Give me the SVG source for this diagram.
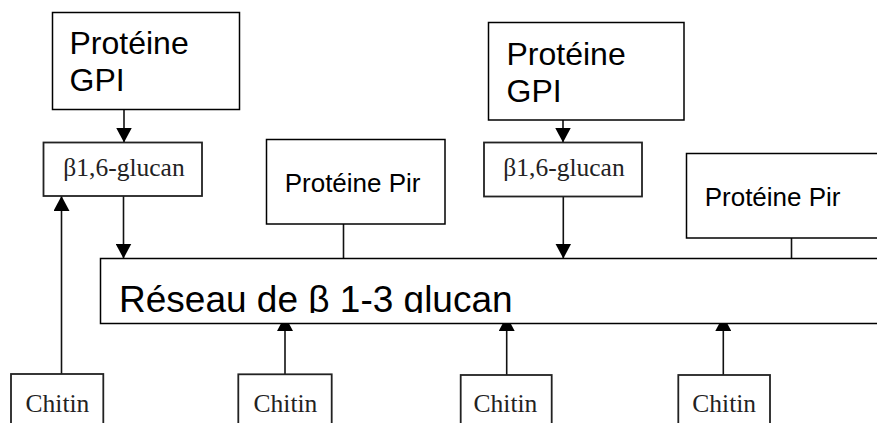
<svg xmlns="http://www.w3.org/2000/svg" width="877" height="423" viewBox="0 0 877 423">
<style>
.box{fill:#fff;stroke:#000;stroke-width:1.5}
.sbox{fill:#fff;stroke:#222;stroke-width:1.8}
.sans{font-family:"Liberation Sans",Arial,sans-serif;fill:#000}
.serif{font-family:"Liberation Serif","Times New Roman",serif;fill:#222;font-size:25.5px;text-anchor:middle}
.link{stroke:#111;stroke-width:1.6;fill:none}
.arr{marker-end:url(#ah)}
</style>
<defs>
<marker id="ah" viewBox="0 0 15 16" refX="15" refY="8" markerWidth="15" markerHeight="16" markerUnits="userSpaceOnUse" orient="auto">
<path d="M0,0 L15,8 L0,16 Z" fill="#000"/>
</marker>
<clipPath id="mainclip"><rect x="100" y="258" width="800" height="55"/></clipPath>
</defs>
<g id="connectors">
<line class="link arr" x1="124" y1="109" x2="124" y2="142.5"/>
<line class="link arr" x1="563" y1="120" x2="563" y2="142.5"/>
<line class="link arr" x1="123.5" y1="196" x2="123.5" y2="258.5"/>
<line class="link arr" x1="563.3" y1="196.5" x2="563.3" y2="258.5"/>
<line class="link" x1="343.5" y1="224" x2="343.5" y2="258.5"/>
<line class="link" x1="791.5" y1="238" x2="791.5" y2="258.5"/>
<line class="link arr" x1="61.5" y1="374" x2="61.5" y2="196"/>
<line class="link arr" x1="285" y1="374" x2="285" y2="316"/>
<line class="link arr" x1="506.7" y1="375" x2="506.7" y2="316"/>
<line class="link arr" x1="723.3" y1="375" x2="723.3" y2="316"/>
</g>
<g id="gpi1">
<rect class="box" x="52.5" y="12.5" width="187" height="97"/>
<text class="sans" x="69.5" y="54" font-size="32">Protéine</text>
<text class="sans" x="69.5" y="91" font-size="32">GPI</text>
</g>
<g id="gpi2">
<rect class="box" x="488.5" y="22.5" width="195.5" height="97.5"/>
<text class="sans" x="506.5" y="65" font-size="32">Protéine</text>
<text class="sans" x="506.5" y="101.5" font-size="32">GPI</text>
</g>
<g id="b16glucan1">
<rect class="sbox" x="43.5" y="142.5" width="158.5" height="53.5"/>
<text class="serif" x="124" y="176">β1,6-glucan</text>
</g>
<g id="b16glucan2">
<rect class="sbox" x="484" y="142.5" width="158" height="54"/>
<text class="serif" x="564" y="176">β1,6-glucan</text>
</g>
<g id="pir1">
<rect class="box" x="266.5" y="139.5" width="178.5" height="84.5"/>
<text class="sans" x="284.7" y="191.7" font-size="26">Protéine Pir</text>
</g>
<g id="pir2">
<rect class="box" x="686.5" y="153.5" width="220" height="84.5"/>
<text class="sans" x="704.7" y="206" font-size="26">Protéine Pir</text>
</g>
<g id="reseau">
<rect class="box" x="100.5" y="258.5" width="800" height="65"/>
<text class="sans" x="119" y="312" font-size="37" clip-path="url(#mainclip)">Réseau de β 1-3 glucan</text>
</g>
<g id="chitin1">
<rect class="sbox" x="11" y="374" width="92.3" height="70"/>
<text class="serif" x="57.5" y="412">Chitin</text>
</g>
<g id="chitin2">
<rect class="sbox" x="238.3" y="374.3" width="93.4" height="70"/>
<text class="serif" x="285.5" y="412">Chitin</text>
</g>
<g id="chitin3">
<rect class="sbox" x="460.7" y="375" width="91" height="70"/>
<text class="serif" x="505.5" y="412">Chitin</text>
</g>
<g id="chitin4">
<rect class="sbox" x="678.3" y="375" width="91.7" height="70"/>
<text class="serif" x="724.2" y="412">Chitin</text>
</g>
</svg>
